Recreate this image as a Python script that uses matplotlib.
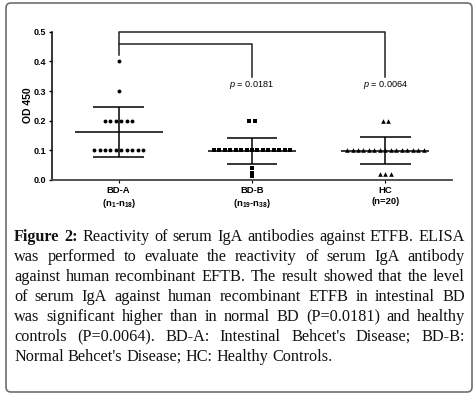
import numpy as np
import matplotlib
matplotlib.use('Agg')
import matplotlib.pyplot as plt
from matplotlib.patches import FancyBboxPatch
from matplotlib.lines import Line2D
from matplotlib.transforms import IdentityTransform

# Data (OD 450 per subject)
groups = ['BD-A', 'BD-B', 'HC']
group_labels = ['BD-A\n(n$_{1}$-n$_{18}$)', 'BD-B\n(n$_{19}$-n$_{38}$)', 'HC\n(n=20)']
bd_a = [0.40, 0.30,
        0.20, 0.20, 0.20, 0.20, 0.20, 0.20,
        0.10, 0.10, 0.10, 0.10, 0.10, 0.10, 0.10, 0.10, 0.10, 0.10]
bd_b = [0.20, 0.20,
        0.10, 0.10, 0.10, 0.10, 0.10, 0.10, 0.10, 0.10, 0.10, 0.10,
        0.10, 0.10, 0.10, 0.10, 0.10,
        0.04, 0.022, 0.014]
hc = [0.20, 0.20,
      0.10, 0.10, 0.10, 0.10, 0.10, 0.10, 0.10, 0.10, 0.10, 0.10,
      0.10, 0.10, 0.10, 0.10, 0.10,
      0.02, 0.02, 0.02]
markers = ['o', 's', '^']
marker_sizes = [2.8, 2.6, 3.3]
p_values = ['0.0181', '0.0064']

caption_lines = [
    "Figure 2: Reactivity of serum IgA antibodies against ETFB. ELISA",
    "was performed to evaluate the reactivity of serum IgA antibody",
    "against human recombinant EFTB. The result showed that the level",
    "of serum IgA against human recombinant ETFB in intestinal BD",
    "was significant higher than in normal BD (P=0.0181) and healthy",
    "controls (P=0.0064). BD-A: Intestinal Behcet's Disease; BD-B:",
    "Normal Behcet's Disease; HC: Healthy Controls.",
]

W, H = 477, 398

plt.rcParams['font.family'] = 'Liberation Sans'
plt.rcParams['mathtext.fontset'] = 'custom'
plt.rcParams['mathtext.rm'] = 'Liberation Sans:bold'
plt.rcParams['mathtext.it'] = 'Liberation Sans:italic'
plt.rcParams['mathtext.bf'] = 'Liberation Sans:bold'


def column_offsets(values, step):
    """Spread equal values side by side, centred on the column"""
    values = np.asarray(values)
    offs = np.zeros(len(values))
    for v in np.unique(values):
        idx = np.where(values == v)[0]
        n = len(idx)
        offs[idx] = (np.arange(n) - (n - 1) / 2.0) * step
    return offs


def justify_caption(fig, lines, x0, x1, y0, dy, last_width):
    """Place words so every line but the last fills x0..x1 (pixels)"""
    renderer = fig.canvas.get_renderer()
    # pick a font size so the last (free) line has the width seen in the original
    probe = fig.text(0, 0, lines[-1], fontsize=10, family='Liberation Serif')
    size = 10 * last_width / probe.get_window_extent(renderer).width
    probe.remove()
    space = 0.25 * size * fig.dpi / 72.0
    for k, line in enumerate(lines):
        words = line.split(' ')
        texts = []
        for j, w in enumerate(words):
            bold = (k == 0 and j < 2)
            t = fig.text(0, 0, w, fontsize=size, family='Liberation Serif',
                         fontweight='bold' if bold else 'normal',
                         va='baseline', ha='left', color='#111111')
            texts.append(t)
        widths = [t.get_window_extent(renderer).width for t in texts]
        if k < len(lines) - 1:
            gap = (x1 - x0 - sum(widths)) / (len(words) - 1)
        else:
            gap = space
        x = x0
        y = y0 + k * dy
        for t, w in zip(texts, widths):
            t.set_position((x / W, 1 - y / H))
            x += w + gap


fig = plt.figure(figsize=(W / 100, H / 100), dpi=100)
ax = fig.add_axes([52 / W, 1 - 180 / H, 400 / W, 148.3 / H])

# Scatter columns with mean +/- SD
for i, (vals, m, ms) in enumerate(zip([bd_a, bd_b, hc], markers, marker_sizes)):
    vals = np.asarray(vals)
    xs = i + column_offsets(vals, 0.041)
    ax.plot(xs, vals, ls='none', marker=m, ms=ms, color='black', mew=0, zorder=3)
    mu, sd = np.mean(vals), np.std(vals, ddof=1)
    ax.hlines(mu, i - 0.33, i + 0.33, color='black', lw=1.1, zorder=2)
    ax.hlines([mu - sd, mu + sd], i - 0.19, i + 0.19, color='black', lw=1.1, zorder=2)
    ax.vlines(i, mu - sd, mu + sd, color='black', lw=1.1, zorder=2)

# Significance brackets
ax.add_line(Line2D([0, 0, 2, 2], [0.42, 0.5, 0.5, 0.347], color='#222222', lw=1.1, clip_on=False))
ax.add_line(Line2D([0, 1, 1], [0.458, 0.458, 0.347], color='#222222', lw=1.1, clip_on=False))
for i, p in enumerate(p_values):
    ax.text(i + 1, 0.32, r'$p$ = ' + p, ha='center', va='center', fontsize=6.6)

ax.set_xlim(-0.5, 2.5)
ax.set_ylim(0, 0.5)
ax.set_yticks(np.arange(0, 0.51, 0.1))
ax.set_yticklabels(['%.1f' % v for v in np.arange(0, 0.51, 0.1)], fontweight='bold', fontsize=6.5)
ax.set_xticks(range(len(groups)))
ax.set_xticklabels(group_labels, fontweight='bold', fontsize=6.8, linespacing=1.3)
ax.tick_params(axis='y', length=2.5, width=1.0, pad=1.5)
ax.tick_params(axis='x', length=2, width=0.8, pad=2)
ax.set_ylabel('OD 450', fontweight='bold', fontsize=7.5)
ax.yaxis.set_label_coords(-0.047, 0.506)
for s in ['top', 'right']:
    ax.spines[s].set_visible(False)
ax.spines['left'].set_linewidth(1.1)
ax.spines['bottom'].set_linewidth(1.3)
ax.spines['bottom'].set_color('#444444')

# Caption
justify_caption(fig, caption_lines, 14, 465, 241, 20, 319)

# Rounded frame
frame = FancyBboxPatch((6, H - 392), 466, 389, boxstyle='round,pad=0,rounding_size=5',
                       transform=IdentityTransform(), fill=False, ec='#6e6e6e', lw=1.2)
fig.add_artist(frame)

fig.savefig('out.png', dpi=100)
